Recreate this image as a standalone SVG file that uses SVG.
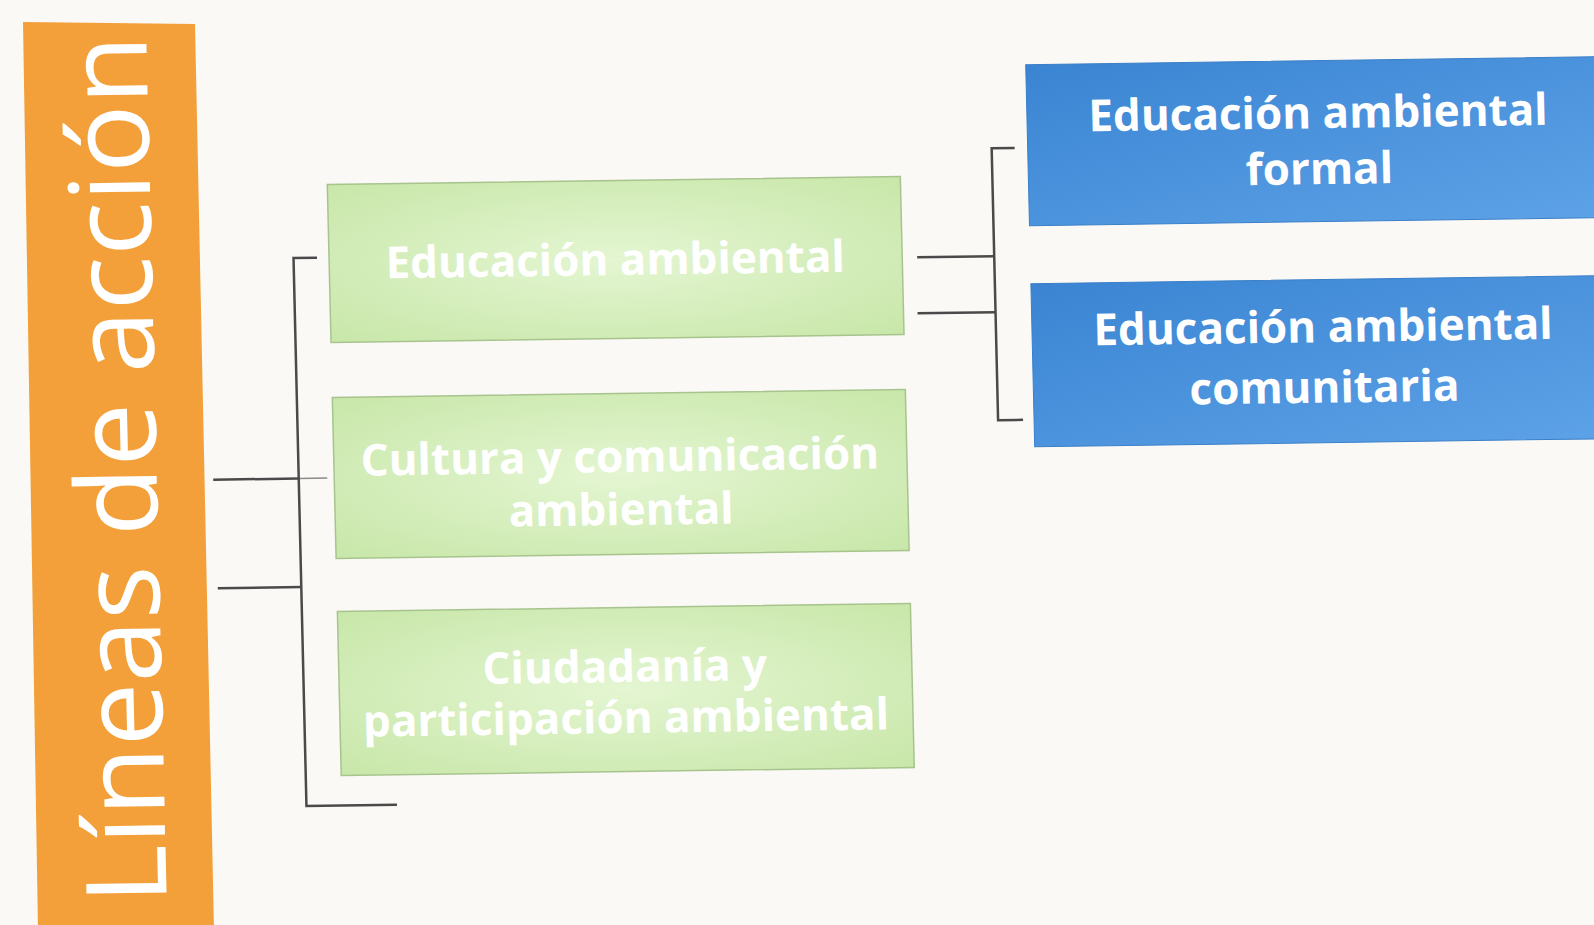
<svg xmlns="http://www.w3.org/2000/svg" width="1594" height="925" viewBox="0 0 1594 925">
  <defs>
    <radialGradient id="gGreen" cx="50%" cy="50%" r="70%">
      <stop offset="0%" stop-color="#e4f6d2"/>
      <stop offset="100%" stop-color="#c8e7a9"/>
    </radialGradient>
    <linearGradient id="gBlue" x1="0" y1="0" x2="1" y2="1">
      <stop offset="0%" stop-color="#3a84d2"/>
      <stop offset="100%" stop-color="#5ea3e8"/>
    </linearGradient>
    <style>
      .green { fill: url(#gGreen); stroke: #a8c48e; stroke-width: 1.5; }
      .blue { fill: url(#gBlue); stroke: #3a7fc8; stroke-width: 1; }
      .lbl { font-family: "Open Sans", "Noto Sans", sans-serif; font-weight: bold; font-size: 44px; fill: #ffffff; text-anchor: middle; }
      .conn { fill: none; stroke: #4a4a4a; stroke-width: 2.5; }
      .connl { fill: none; stroke: #8a8a8a; stroke-width: 1.5; }
    </style>
  </defs>
  <rect x="0" y="0" width="1594" height="925" fill="#faf9f5"/>
  <g id="lineas">
    <polygon points="23,22 195,24 214,930 38,930" fill="#f3a03a"/>
    <g transform="matrix(1 -0.014 0.0236 1 -10.9 11.2)">
      <text transform="translate(156.5 894.6) rotate(-90)" font-family="'Open Sans', 'Noto Sans', sans-serif" font-size="112" fill="#ffffff" textLength="869" lengthAdjust="spacingAndGlyphs">Líneas de acción</text>
    </g>
  </g>
  <g transform="matrix(1 -0.014 0.0236 1 -10.9 11.2)">
    <g id="connectors">
      <path class="conn" d="M213 471.5 H298.5"/>
      <path class="connl" d="M298.5 471.5 H327"/>
      <path class="conn" d="M215 580 H298.5"/>
      <path class="conn" d="M322 251 H298.5 V799 H389"/>
      <path class="conn" d="M922 259 H999"/>
      <path class="conn" d="M921 315 H999"/>
      <path class="conn" d="M1022 151 H999 V423 H1024"/>
    </g>
    <g id="educacion">
      <rect class="green" x="334" y="178" width="573" height="158"/>
      <text class="lbl" x="620" y="272.5">Educación ambiental</text>
    </g>
    <g id="cultura">
      <rect class="green" x="334" y="391" width="573" height="161"/>
      <text class="lbl" x="620" y="469.5">Cultura y comunicación</text>
      <text class="lbl" x="620" y="522.5">ambiental</text>
    </g>
    <g id="ciudadania">
      <rect class="green" x="334" y="605" width="573" height="164"/>
      <text class="lbl" x="620" y="679.5">Ciudadanía y</text>
      <text class="lbl" x="620" y="730.5">participación ambiental</text>
    </g>
    <g id="formal">
      <rect class="blue" x="1035" y="68" width="600" height="161"/>
      <text class="lbl" x="1326" y="135.5">Educación ambiental</text>
      <text class="lbl" x="1326" y="191.5">formal</text>
    </g>
    <g id="comunitaria">
      <rect class="blue" x="1035" y="287" width="600" height="163"/>
      <text class="lbl" x="1326" y="349.5">Educación ambiental</text>
      <text class="lbl" x="1326" y="410">comunitaria</text>
    </g>
  </g>
</svg>
